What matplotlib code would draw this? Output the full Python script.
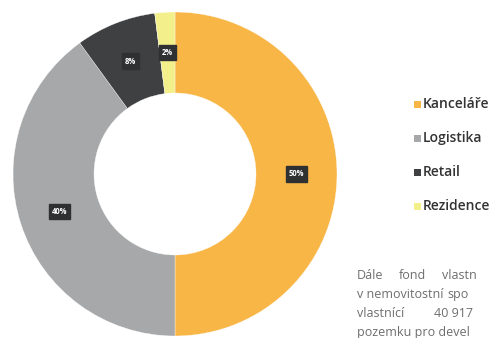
import matplotlib
matplotlib.use("Agg")
import matplotlib.pyplot as plt
from matplotlib.patches import Rectangle

categories = ["Kanceláře", "Logistika", "Retail", "Rezidence"]
shares = [50, 40, 8, 2]
colors = ["#F8B646", "#A7A8A9", "#3E4042", "#F3F08C"]

# visible (cropped) part of the paragraph next to the chart
paragraph_lines = [
    ["Dále", "fond", "vlastn"],
    ["v nemovitostní", "spo"],
    ["vlastnící", "40 917"],
    ["pozemku pro devel"],
]

W, H = 497, 338
fig = plt.figure(figsize=(W / 100, H / 100), dpi=100)
fig.patch.set_facecolor("white")

def fx(x):
    return x / W

def fy(y):
    return 1 - y / H

# Donut
cx, cy, r = 175, 174, 162
ax = fig.add_axes([fx(cx - r), fy(cy + r), 2 * r / W, 2 * r / H])
wedges, texts, autotexts = ax.pie(
    shares, colors=colors, startangle=90, counterclock=False,
    wedgeprops=dict(width=0.5, edgecolor="white", linewidth=0.25),
    autopct=lambda p: f"{p:.0f}%", pctdistance=0.75,
    textprops=dict(color="white", fontsize=5.5, fontweight="bold",
                   family=["Open Sans", "DejaVu Sans"]),
)
for t in autotexts:
    t.set_bbox(dict(boxstyle="square,pad=0.4", facecolor="#2E3032",
                    edgecolor="#2E3032"))
ax.set_xlim(-1, 1)
ax.set_ylim(-1, 1)
ax.set_aspect("equal")
ax.axis("off")

# Legend
rows_y = [104, 138, 172, 206]
for cat, col, y in zip(categories, colors, rows_y):
    fig.patches.append(Rectangle((fx(414), fy(y + 3.5)), 7 / W, 7 / H,
                                 transform=fig.transFigure, facecolor=col,
                                 edgecolor="none"))
    fig.text(fx(423), fy(y), cat, fontsize=10, fontweight="semibold",
             color="#333333", va="center", ha="left",
             family=["Open Sans", "DejaVu Sans"])

# Paragraph (cropped by the right edge in the reference)
word_x = [[357, 399, 442], [357, 447], [357, 434], [357]]
baselines = [279, 298, 317, 336]
for words, xs, yb in zip(paragraph_lines, word_x, baselines):
    for w, x in zip(words, xs):
        fig.text(fx(x), fy(yb), w, fontsize=9, color="#6E6E6E",
                 va="baseline", ha="left",
                 family=["Open Sans", "DejaVu Sans"])

fig.savefig("out.png", dpi=100, facecolor="white")
